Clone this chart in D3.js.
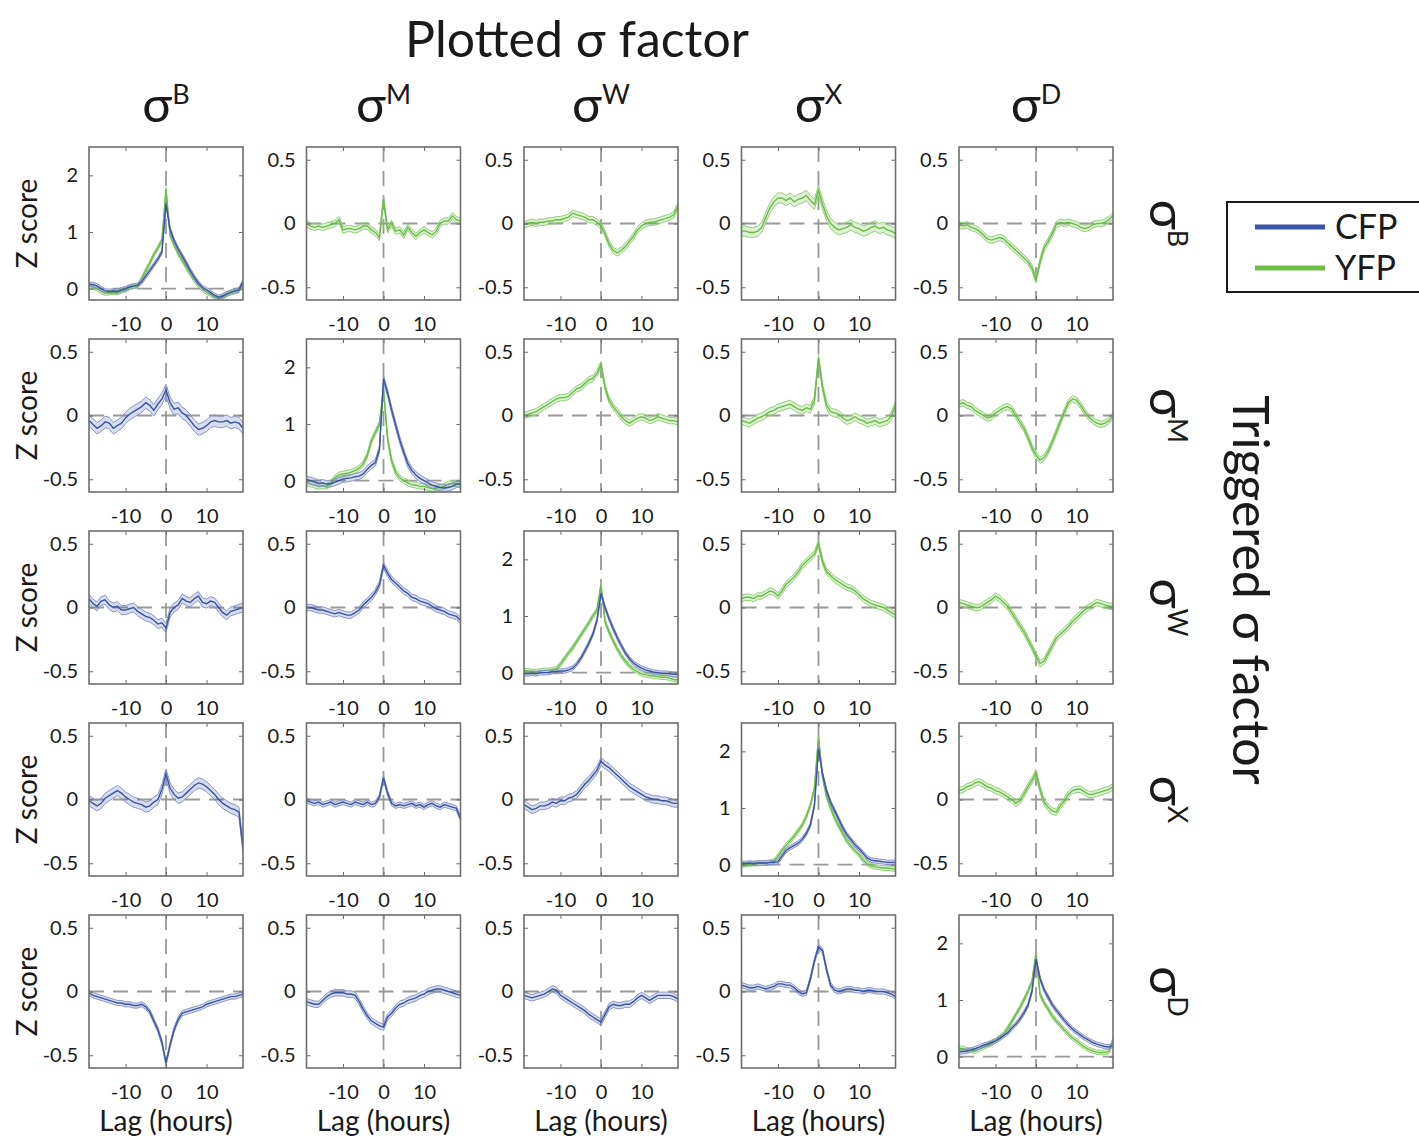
<html>
<head>
	<script src="https://d3js.org/d3.v7.min.js"></script>
	<style>
		body { margin: 0; background: #fff; }
		text { font-family: Lato, "Noto Sans", sans-serif; fill: #1a1a1a; }
	</style>
</head>
<body>
	<script>
		// lag in hours, same for every panel
		var lags = [-19,-18,-17,-16,-15,-14,-13,-12,-11,-10,-9,-8,-7,-6,-5,-4,-3,-2,-1,0,1,2,3,4,5,6,7,8,9,10,11,12,13,14,15,16,17,18,19];

		var factors = ["B", "M", "W", "X", "D"];
		var xTicks = [-10, 0, 10];
		var yTicksSmall = [-0.5, 0, 0.5];
		var yTicksBig = [0, 1, 2];

		// name = fluor_triggered_plotted
		// triggered sigma B
		var cfp_B_B = [0.08,0.07,0.05,0,-0.04,-0.05,-0.04,-0.05,-0.02,0,0.03,0.05,0.06,0.12,0.22,0.32,0.42,0.52,0.65,1.5,1.05,0.85,0.7,0.58,0.45,0.32,0.2,0.1,0.02,-0.02,-0.07,-0.12,-0.15,-0.13,-0.09,-0.06,-0.04,-0.02,0.12];
		var yfp_B_B = [0.05,0.03,0,-0.05,-0.08,-0.07,-0.06,-0.07,-0.04,-0.02,0.02,0.04,0.05,0.18,0.32,0.45,0.6,0.72,0.85,1.75,0.95,0.78,0.62,0.5,0.38,0.26,0.15,0.06,-0.01,-0.06,-0.1,-0.15,-0.18,-0.15,-0.1,-0.07,-0.05,-0.03,0.08];
		var yfp_B_M = [0,-0.02,-0.03,-0.02,-0.03,-0.02,-0.01,0.0,0.03,-0.05,-0.04,-0.04,-0.05,-0.04,-0.02,-0.02,-0.05,-0.07,-0.11,0.19,-0.05,0,-0.06,-0.05,-0.09,-0.03,-0.07,-0.1,-0.07,-0.05,-0.07,-0.09,-0.06,0,0.02,0.02,0.06,0.03,0.02];
		var yfp_B_W = [-0.01,0,0.01,0,0.01,0.01,0.02,0.02,0.03,0.03,0.04,0.05,0.08,0.07,0.06,0.05,0.03,0.03,0.01,-0.02,-0.08,-0.16,-0.21,-0.23,-0.21,-0.18,-0.14,-0.1,-0.05,-0.02,0,0.01,0.01,0.02,0.03,0.04,0.05,0.07,0.14];
		var yfp_B_X = [-0.06,-0.06,-0.07,-0.07,-0.06,-0.03,0.05,0.12,0.17,0.2,0.2,0.18,0.2,0.17,0.19,0.2,0.22,0.18,0.15,0.26,0.15,0.06,0,-0.03,-0.05,-0.04,-0.03,-0.01,-0.03,-0.04,-0.06,-0.05,-0.03,-0.02,-0.04,-0.03,-0.05,-0.06,-0.08];
		var yfp_B_D = [-0.01,-0.02,-0.01,-0.03,-0.04,-0.06,-0.09,-0.12,-0.13,-0.12,-0.11,-0.12,-0.15,-0.18,-0.21,-0.24,-0.27,-0.3,-0.35,-0.44,-0.3,-0.19,-0.14,-0.08,-0.01,0.01,0,0.01,0,-0.01,-0.03,-0.04,-0.03,-0.01,0,0,0.01,0.03,0.06];

		// triggered sigma M
		var cfp_M_B = [-0.04,-0.07,-0.1,-0.08,-0.05,-0.06,-0.1,-0.08,-0.06,-0.02,0.01,0.03,0.05,0.07,0.1,0.08,0.04,0.09,0.13,0.2,0.1,0.05,0.06,0.02,0,-0.04,-0.08,-0.11,-0.1,-0.08,-0.05,-0.04,-0.05,-0.05,-0.04,-0.06,-0.05,-0.06,-0.1];
		var cfp_M_M = [0.02,0,-0.02,-0.05,-0.04,-0.06,-0.05,-0.03,0,0.03,0.04,0.05,0.07,0.08,0.12,0.2,0.27,0.32,0.55,1.8,1.55,1.25,0.98,0.72,0.5,0.3,0.18,0.1,0.04,0,-0.04,-0.08,-0.1,-0.12,-0.13,-0.12,-0.1,-0.06,-0.05];
		var yfp_M_M = [-0.03,-0.06,-0.08,-0.1,-0.09,-0.1,-0.05,0.05,0.1,0.12,0.13,0.15,0.18,0.22,0.3,0.45,0.7,0.85,1.0,1.6,0.75,0.35,0.15,0.05,0,-0.04,-0.07,-0.08,-0.1,-0.1,-0.12,-0.14,-0.13,-0.12,-0.1,-0.06,-0.05,-0.05,-0.08];
		var yfp_M_W = [0,0.01,0.02,0.03,0.05,0.07,0.09,0.11,0.13,0.14,0.14,0.15,0.18,0.21,0.22,0.25,0.28,0.29,0.33,0.4,0.22,0.12,0.07,0.03,-0.01,-0.04,-0.06,-0.04,-0.02,-0.01,-0.02,-0.04,-0.03,-0.01,-0.02,-0.03,-0.04,-0.04,-0.05];
		var yfp_M_X = [-0.04,-0.05,-0.06,-0.04,-0.02,-0.01,0.01,0.03,0.04,0.06,0.07,0.08,0.09,0.07,0.05,0.04,0.06,0.05,0.12,0.45,0.22,0.08,0.03,0.02,0.01,-0.02,-0.04,-0.03,-0.01,-0.03,-0.04,-0.06,-0.05,-0.04,-0.06,-0.05,-0.04,0,0.08];
		var yfp_M_D = [0.09,0.1,0.08,0.07,0.04,0.02,0,-0.02,-0.01,0.02,0.04,0.06,0.07,0.05,0,-0.05,-0.1,-0.17,-0.25,-0.31,-0.35,-0.33,-0.28,-0.21,-0.13,-0.05,0.03,0.1,0.13,0.12,0.08,0.03,-0.01,-0.04,-0.06,-0.07,-0.06,-0.04,0];

		// triggered sigma W
		var cfp_W_B = [0.07,0.03,0.01,0.05,0.06,0.02,0,0.01,-0.02,-0.02,-0.01,0,-0.03,-0.05,-0.07,-0.08,-0.1,-0.13,-0.12,-0.16,-0.04,0,0.02,0.07,0.05,0.04,0.07,0.09,0.04,0.03,0.05,0.04,0,-0.04,-0.06,-0.03,-0.02,-0.01,0];
		var cfp_W_M = [0,0,-0.01,-0.02,-0.02,-0.03,-0.04,-0.05,-0.04,-0.05,-0.06,-0.06,-0.04,-0.02,0.02,0.05,0.08,0.12,0.18,0.33,0.27,0.22,0.19,0.16,0.13,0.11,0.08,0.07,0.05,0.04,0.03,0.01,-0.01,-0.02,-0.03,-0.05,-0.06,-0.07,-0.1];
		var cfp_W_W = [-0.02,-0.02,-0.01,-0.02,0,0,0,0.02,0.02,0.03,0.03,0.05,0.08,0.15,0.25,0.38,0.52,0.68,0.92,1.4,1.15,0.95,0.78,0.62,0.48,0.35,0.25,0.17,0.12,0.08,0.05,0.03,0.01,0,-0.01,-0.01,-0.02,-0.03,-0.03];
		var yfp_W_W = [0.04,0.03,0.02,0.02,0.03,0.04,0.04,0.05,0.07,0.15,0.25,0.35,0.44,0.55,0.66,0.77,0.88,1.0,1.1,1.55,0.9,0.72,0.56,0.42,0.3,0.2,0.12,0.06,0.02,-0.02,-0.04,-0.05,-0.06,-0.07,-0.08,-0.08,-0.1,-0.12,-0.13];
		var yfp_W_X = [0.07,0.08,0.08,0.07,0.09,0.09,0.11,0.13,0.12,0.09,0.13,0.18,0.21,0.24,0.28,0.33,0.36,0.39,0.42,0.5,0.36,0.28,0.25,0.22,0.2,0.18,0.16,0.15,0.13,0.1,0.07,0.05,0.03,0.02,0.01,0,-0.02,-0.04,-0.06];
		var yfp_W_D = [0.04,0.03,0.02,0.01,0,0,0.02,0.04,0.06,0.09,0.07,0.04,0.01,-0.04,-0.09,-0.14,-0.19,-0.25,-0.31,-0.38,-0.44,-0.42,-0.36,-0.3,-0.24,-0.21,-0.18,-0.15,-0.11,-0.08,-0.05,-0.02,0,0.02,0.04,0.03,0.02,0.01,0.01];

		// triggered sigma X
		var cfp_X_B = [-0.01,-0.03,-0.05,-0.03,0.01,0.03,0.05,0.07,0.05,0.02,0,-0.02,-0.03,-0.04,-0.06,-0.05,-0.02,0,0.08,0.2,0.09,0.04,0.01,0.02,0.05,0.08,0.11,0.13,0.12,0.1,0.07,0.04,0,-0.03,-0.05,-0.07,-0.08,-0.1,-0.38];
		var cfp_X_M = [-0.01,-0.02,-0.03,-0.02,-0.04,-0.03,-0.02,-0.04,-0.03,-0.02,-0.03,-0.04,-0.02,-0.03,-0.04,-0.02,-0.04,-0.03,0.02,0.17,0.05,-0.03,-0.05,-0.04,-0.05,-0.04,-0.03,-0.05,-0.04,-0.06,-0.04,-0.03,-0.05,-0.06,-0.04,-0.05,-0.06,-0.07,-0.15];
		var cfp_X_W = [-0.04,-0.06,-0.08,-0.07,-0.05,-0.05,-0.04,-0.02,-0.03,-0.01,-0.01,0.01,0.02,0.04,0.08,0.12,0.15,0.19,0.23,0.3,0.27,0.25,0.22,0.19,0.16,0.13,0.1,0.08,0.06,0.04,0.02,0.01,0,0,-0.01,-0.01,-0.02,-0.03,-0.03];
		var cfp_X_X = [0.02,0.02,0.03,0.02,0.03,0.03,0.03,0.04,0.04,0.05,0.15,0.25,0.3,0.34,0.38,0.45,0.55,0.7,1.05,2.05,1.6,1.3,1.1,0.95,0.8,0.65,0.53,0.44,0.35,0.28,0.2,0.12,0.08,0.07,0.06,0.05,0.04,0.04,0.04];
		var yfp_X_X = [-0.01,0,0.01,0.02,0.02,0.03,0.03,0.04,0.06,0.15,0.25,0.34,0.42,0.5,0.6,0.7,0.85,1.05,1.35,2.25,1.55,1.2,1.0,0.82,0.68,0.55,0.42,0.33,0.25,0.18,0.08,0.02,-0.02,-0.04,-0.05,-0.06,-0.06,-0.07,-0.08];
		var yfp_X_D = [0.07,0.08,0.1,0.11,0.13,0.14,0.12,0.1,0.09,0.07,0.06,0.04,0.02,0,-0.03,-0.01,0.04,0.1,0.15,0.21,0.08,-0.02,-0.06,-0.09,-0.1,-0.05,-0.01,0.04,0.07,0.08,0.08,0.06,0.04,0.04,0.05,0.06,0.07,0.08,0.1];

		// triggered sigma D
		var cfp_D_B = [-0.01,-0.03,-0.04,-0.05,-0.06,-0.07,-0.08,-0.09,-0.09,-0.1,-0.1,-0.11,-0.11,-0.1,-0.12,-0.16,-0.23,-0.3,-0.4,-0.56,-0.42,-0.3,-0.22,-0.17,-0.16,-0.15,-0.14,-0.13,-0.12,-0.1,-0.09,-0.08,-0.07,-0.06,-0.05,-0.04,-0.04,-0.03,-0.02];
		var cfp_D_M = [-0.08,-0.09,-0.1,-0.1,-0.07,-0.04,-0.02,-0.01,-0.01,-0.01,-0.02,-0.02,-0.03,-0.08,-0.14,-0.19,-0.23,-0.25,-0.27,-0.28,-0.2,-0.17,-0.13,-0.1,-0.09,-0.07,-0.06,-0.05,-0.03,-0.02,0,0.01,0.02,0.02,0.01,0,-0.01,-0.02,-0.03];
		var cfp_D_W = [-0.03,-0.04,-0.05,-0.04,-0.03,-0.02,0,0.02,0.01,-0.03,-0.05,-0.07,-0.09,-0.11,-0.13,-0.15,-0.18,-0.2,-0.22,-0.24,-0.18,-0.12,-0.1,-0.11,-0.11,-0.1,-0.1,-0.08,-0.05,-0.03,-0.05,-0.07,-0.05,-0.03,-0.03,-0.03,-0.03,-0.04,-0.06];
		var cfp_D_X = [0.05,0.04,0.03,0.03,0.04,0.03,0.02,0.03,0.04,0.06,0.06,0.05,0.05,0.03,0,-0.02,-0.01,0.1,0.24,0.35,0.32,0.17,0.05,0.01,0,0.01,0.02,0.02,0.01,0.01,0,0.01,0.01,0,0,0,-0.01,-0.02,-0.04];
		var cfp_D_D = [0.08,0.09,0.1,0.12,0.14,0.17,0.2,0.22,0.25,0.28,0.32,0.37,0.42,0.5,0.57,0.66,0.77,0.9,1.15,1.72,1.38,1.18,1.05,0.92,0.82,0.73,0.64,0.56,0.49,0.43,0.38,0.33,0.29,0.25,0.22,0.2,0.18,0.17,0.2];
		var yfp_D_D = [0.15,0.14,0.12,0.11,0.1,0.13,0.17,0.2,0.23,0.28,0.34,0.4,0.5,0.62,0.74,0.86,1.0,1.15,1.32,1.82,1.1,0.95,0.84,0.72,0.63,0.55,0.47,0.4,0.33,0.28,0.22,0.17,0.13,0.1,0.08,0.07,0.08,0.09,0.3];

		// half width of the shaded error band, rows = triggered, cols = plotted
		var semCFP = [
			[0.04, null, null, null, null],
			[0.045, 0.06, null, null, null],
			[0.035, 0.025, 0.04, null, null],
			[0.04, 0.02, 0.03, 0.04, null],
			[0.02, 0.025, 0.025, 0.02, 0.04]
		];
		var semYFP = [
			[0.04, 0.025, 0.025, 0.04, 0.025],
			[null, 0.05, 0.025, 0.03, 0.025],
			[null, null, 0.04, 0.025, 0.025],
			[null, null, null, 0.04, 0.025],
			[null, null, null, null, 0.04]
		];

		var cfpData = [
			[cfp_B_B, null, null, null, null],
			[cfp_M_B, cfp_M_M, null, null, null],
			[cfp_W_B, cfp_W_M, cfp_W_W, null, null],
			[cfp_X_B, cfp_X_M, cfp_X_W, cfp_X_X, null],
			[cfp_D_B, cfp_D_M, cfp_D_W, cfp_D_X, cfp_D_D]
		];
		var yfpData = [
			[yfp_B_B, yfp_B_M, yfp_B_W, yfp_B_X, yfp_B_D],
			[null, yfp_M_M, yfp_M_W, yfp_M_X, yfp_M_D],
			[null, null, yfp_W_W, yfp_W_X, yfp_W_D],
			[null, null, null, yfp_X_X, yfp_X_D],
			[null, null, null, null, yfp_D_D]
		];

		var outerWidth = 1419;
		var outerHeight = 1138;
		var panelW = 154;
		var panelH = 153;
		var colStep = 217.5;
		var rowStep = 192;
		var left0 = 89;
		var top0 = 147;

		var blue = "#3a53a4";
		var green = "#6abd45";

		var svg = d3.select("body").append("svg")
			.attr("width", outerWidth)
			.attr("height", outerHeight);

		var xScale = d3.scaleLinear().domain([-19, 19]).range([0, panelW]);

		function drawSeries(g, yScale, values, sem, color, edge, fillOp) {
			var pts = lags.map(function(t, i) { return { t: t, v: values[i] }; });
			var area = d3.area()
				.x(function(d) { return xScale(d.t); })
				.y0(function(d) { return yScale(d.v - sem); })
				.y1(function(d) { return yScale(d.v + sem); });
			var line = d3.line()
				.x(function(d) { return xScale(d.t); })
				.y(function(d) { return yScale(d.v); });
			g.append("path").datum(pts).attr("d", area)
				.attr("fill", color).attr("fill-opacity", fillOp);
			g.append("path").datum(pts)
				.attr("d", line.y(function(d) { return yScale(d.v + sem); }))
				.attr("fill", "none").attr("stroke", edge).attr("stroke-width", 1);
			g.append("path").datum(pts)
				.attr("d", line.y(function(d) { return yScale(d.v - sem); }))
				.attr("fill", "none").attr("stroke", edge).attr("stroke-width", 1);
			g.append("path").datum(pts)
				.attr("d", line.y(function(d) { return yScale(d.v); }))
				.attr("fill", "none").attr("stroke", color).attr("stroke-width", 1.4);
		}

		for (var r = 0; r < 5; r++) {
			for (var c = 0; c < 5; c++) {
				var big = (r == c);
				var yScale = d3.scaleLinear()
					.domain(big ? [-0.2, 2.5] : [-0.6, 0.6])
					.range([panelH, 0]);
				var yTicks = big ? yTicksBig : yTicksSmall;

				var g = svg.append("g")
					.attr("transform", "translate(" + (left0 + c * colStep) + "," + (top0 + r * rowStep) + ")");

				var clip = "clip" + r + c;
				g.append("clipPath").attr("id", clip)
					.append("rect").attr("width", panelW).attr("height", panelH);

				var plot = g.append("g").attr("clip-path", "url(#" + clip + ")");

				// zero lines
				plot.append("line")
					.attr("x1", 0).attr("x2", panelW)
					.attr("y1", yScale(0)).attr("y2", yScale(0))
					.attr("stroke", "#999").attr("stroke-width", 1.8)
					.attr("stroke-dasharray", "15,9");
				plot.append("line")
					.attr("x1", xScale(0)).attr("x2", xScale(0))
					.attr("y1", 0).attr("y2", panelH)
					.attr("stroke", "#999").attr("stroke-width", 1.8)
					.attr("stroke-dasharray", "15,9");

				if (yfpData[r][c]) {
					drawSeries(plot, yScale, yfpData[r][c], semYFP[r][c], green, "#8fd174", 0.22);
				}
				if (cfpData[r][c]) {
					drawSeries(plot, yScale, cfpData[r][c], semCFP[r][c], blue, "#8893cc", 0.2);
				}

				// axes, ticks pointing inward on all four sides
				g.append("g")
					.call(d3.axisLeft(yScale).tickValues(yTicks).tickSize(-4).tickPadding(11)
						.tickFormat(function(d) { return String(d); }));
				g.append("g").attr("transform", "translate(" + panelW + ",0)")
					.call(d3.axisRight(yScale).tickValues(yTicks).tickSize(-4).tickFormat(""));
				g.append("g").attr("transform", "translate(0," + panelH + ")")
					.call(d3.axisBottom(xScale).tickValues(xTicks).tickSize(-4).tickPadding(17)
						.tickFormat(function(d) { return String(d); }));
				g.append("g")
					.call(d3.axisTop(xScale).tickValues(xTicks).tickSize(-4).tickFormat(""));

				g.selectAll(".domain").remove();
				g.selectAll(".tick line").attr("stroke", "#6e6e6e");
				g.selectAll(".tick text")
					.style("font-family", "Lato, 'Noto Sans', sans-serif")
					.style("font-size", "20px").attr("fill", "#1a1a1a");

				g.append("rect")
					.attr("width", panelW).attr("height", panelH)
					.attr("fill", "none").attr("stroke", "#6e6e6e").attr("stroke-width", 1.6);

				if (c == 0) {
					g.append("text")
						.attr("transform", "translate(-52," + (panelH / 2) + ") rotate(-90)")
						.attr("text-anchor", "middle")
						.style("font-size", "28px")
						.text("Z score");
				}
				if (r == 4) {
					g.append("text")
						.attr("x", xScale(0)).attr("y", panelH + 63)
						.attr("text-anchor", "middle")
						.style("font-size", "28px")
						.text("Lag (hours)");
				}
			}
		}

		// column titles
		factors.forEach(function(f, c) {
			var t = svg.append("text")
				.attr("x", left0 + c * colStep + xScale(0))
				.attr("y", 122)
				.attr("text-anchor", "middle");
			t.append("tspan").style("font-size", "50px").text("σ");
			t.append("tspan").style("font-size", "27px").attr("dy", -18).text(f);
		});

		// row titles, rotated
		factors.forEach(function(f, r) {
			var t = svg.append("text")
				.attr("transform", "translate(1150," + (top0 + r * rowStep + panelH / 2) + ") rotate(90)")
				.attr("text-anchor", "middle");
			t.append("tspan").style("font-size", "50px").text("σ");
			t.append("tspan").style("font-size", "27px").attr("dy", -18).text(f);
		});

		svg.append("text")
			.attr("x", 577).attr("y", 57)
			.attr("text-anchor", "middle")
			.style("font-size", "50px")
			.text("Plotted σ factor");

		svg.append("text")
			.attr("transform", "translate(1233,590) rotate(90)")
			.attr("text-anchor", "middle")
			.style("font-size", "50px")
			.text("Triggered σ factor");

		// legend
		var legend = svg.append("g").attr("transform", "translate(1227,202)");
		legend.append("rect")
			.attr("width", 200).attr("height", 90)
			.attr("fill", "#fff").attr("stroke", "#1a1a1a").attr("stroke-width", 2);
		var legendItems = [{ name: "CFP", color: blue }, { name: "YFP", color: green }];
		legendItems.forEach(function(d, i) {
			legend.append("line")
				.attr("x1", 28).attr("x2", 98)
				.attr("y1", 25 + i * 41).attr("y2", 25 + i * 41)
				.attr("stroke", d.color).attr("stroke-width", 5);
			legend.append("text")
				.attr("x", 108).attr("y", 37 + i * 41)
				.style("font-size", "34px")
				.text(d.name);
		});
	</script>
</body>
</html>
